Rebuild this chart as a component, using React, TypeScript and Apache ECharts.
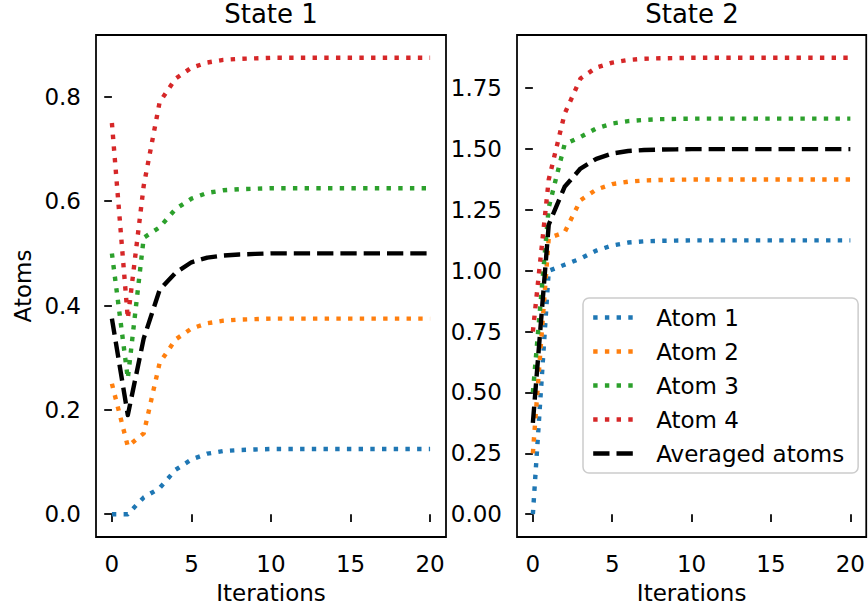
import React, { useEffect, useRef } from "react";
import * as echarts from "echarts";

const iterations = [0, 1, 2, 3, 4, 5, 6, 7, 8, 9, 10, 11, 12, 13, 14, 15, 16, 17, 18, 19, 20];

const s1Atom1 = [0, 0, 0.032, 0.05, 0.085, 0.105, 0.116, 0.121, 0.123, 0.124, 0.125, 0.125, 0.125, 0.125, 0.125, 0.125, 0.125, 0.125, 0.125, 0.125, 0.125];
const s1Atom2 = [0.25, 0.13, 0.155, 0.29, 0.335, 0.356, 0.366, 0.371, 0.373, 0.374, 0.375, 0.375, 0.375, 0.375, 0.375, 0.375, 0.375, 0.375, 0.375, 0.375, 0.375];
const s1Atom3 = [0.5, 0.26, 0.53, 0.55, 0.585, 0.605, 0.616, 0.621, 0.623, 0.624, 0.625, 0.625, 0.625, 0.625, 0.625, 0.625, 0.625, 0.625, 0.625, 0.625, 0.625];
const s1Atom4 = [0.75, 0.375, 0.63, 0.79, 0.835, 0.856, 0.866, 0.871, 0.873, 0.874, 0.875, 0.875, 0.875, 0.875, 0.875, 0.875, 0.875, 0.875, 0.875, 0.875, 0.875];
const s1Avg = [0.375, 0.19, 0.337, 0.43, 0.463, 0.483, 0.492, 0.496, 0.498, 0.499, 0.5, 0.5, 0.5, 0.5, 0.5, 0.5, 0.5, 0.5, 0.5, 0.5, 0.5];

const s2Atom1 = [0, 1.0, 1.025, 1.05, 1.083, 1.104, 1.116, 1.121, 1.123, 1.124, 1.125, 1.125, 1.125, 1.125, 1.125, 1.125, 1.125, 1.125, 1.125, 1.125, 1.125];
const s2Atom2 = [0.25, 1.135, 1.158, 1.29, 1.334, 1.356, 1.366, 1.371, 1.373, 1.374, 1.375, 1.375, 1.375, 1.375, 1.375, 1.375, 1.375, 1.375, 1.375, 1.375, 1.375];
const s2Atom3 = [0.5, 1.26, 1.52, 1.55, 1.585, 1.605, 1.615, 1.62, 1.623, 1.624, 1.625, 1.625, 1.625, 1.625, 1.625, 1.625, 1.625, 1.625, 1.625, 1.625, 1.625];
const s2Atom4 = [0.75, 1.375, 1.645, 1.79, 1.835, 1.855, 1.866, 1.871, 1.873, 1.874, 1.875, 1.875, 1.875, 1.875, 1.875, 1.875, 1.875, 1.875, 1.875, 1.875, 1.875];
const s2Avg = [0.375, 1.19, 1.345, 1.42, 1.46, 1.482, 1.492, 1.496, 1.498, 1.499, 1.5, 1.5, 1.5, 1.5, 1.5, 1.5, 1.5, 1.5, 1.5, 1.5, 1.5];

const seriesNames = ["Atom 1", "Atom 2", "Atom 3", "Atom 4", "Averaged atoms"];
const seriesColors = ["#1f77b4", "#ff7f0e", "#2ca02c", "#d62728", "#000000"];
const titles = ["State 1", "State 2"];
const xTicks = [0, 5, 10, 15, 20];
const s1YTicks = [0, 0.2, 0.4, 0.6, 0.8];
const s2YTicks = [0, 0.25, 0.5, 0.75, 1.0, 1.25, 1.5, 1.75];

const FONT = "DejaVu Sans";
const FS = 23;
const LW = 4.4;
const DOT = [4.4, 7.3];
const DASH = [16.3, 7];

function pairs(ys: number[]) {
  return ys.map((y, i) => [iterations[i], y]);
}

export default function App() {
  const ref = useRef<HTMLDivElement>(null);
  useEffect(() => {
    if (!ref.current) return;
    const chart = echarts.init(ref.current, null, { renderer: "svg" });
    const states = [
      [s1Atom1, s1Atom2, s1Atom3, s1Atom4, s1Avg],
      [s2Atom1, s2Atom2, s2Atom3, s2Atom4, s2Avg],
    ];
    const series: any[] = [];
    states.forEach((st, gi) => {
      st.forEach((ys, si) => {
        series.push({
          type: "line",
          name: seriesNames[si],
          xAxisIndex: gi,
          yAxisIndex: gi,
          data: pairs(ys),
          symbol: "none",
          showSymbol: false,
          color: seriesColors[si],
          z: 2 + si,
          lineStyle: {
            color: seriesColors[si],
            width: LW,
            type: si === 4 ? DASH : DOT,
            cap: "butt",
            join: "round",
          },
        });
      });
    });
    const axisCommon = {
      type: "value",
      splitLine: { show: false },
      axisLine: { show: false },
    };
    const tickStyle = { show: true, inside: false, length: 7.7, lineStyle: { color: "#000", width: 1.76 } };
    const labelStyle = { color: "#000", fontSize: FS, fontFamily: FONT, margin: 15 };
    const grids = [
      { left: 96, top: 35, width: 350, height: 502 },
      { left: 517, top: 35, width: 350, height: 502 },
    ];
    chart.setOption({
      animation: false,
      backgroundColor: "#ffffff",
      textStyle: { fontFamily: FONT },
      grid: grids.map((g) => ({ ...g, show: true, borderColor: "#000", borderWidth: 1.76, backgroundColor: "transparent" })),
      xAxis: [0, 1].map((gi) => ({
        ...axisCommon,
        gridIndex: gi,
        min: -1,
        max: 21,
        name: "Iterations",
        nameLocation: "middle",
        nameGap: 44,
        nameTextStyle: { color: "#000", fontSize: FS, fontFamily: FONT },
        axisTick: { ...tickStyle, customValues: xTicks },
        axisLabel: { ...labelStyle, customValues: xTicks, formatter: (v: number) => String(v) },
      })),
      yAxis: [
        {
          ...axisCommon,
          gridIndex: 0,
          min: -0.04375,
          max: 0.91875,
          name: "Atoms",
          nameLocation: "middle",
          nameGap: 62,
          nameTextStyle: { color: "#000", fontSize: FS, fontFamily: FONT },
          axisTick: { ...tickStyle, customValues: s1YTicks },
          axisLabel: { ...labelStyle, customValues: s1YTicks, formatter: (v: number) => v.toFixed(1) },
        },
        {
          ...axisCommon,
          gridIndex: 1,
          min: -0.09375,
          max: 1.96875,
          axisTick: { ...tickStyle, customValues: s2YTicks },
          axisLabel: { ...labelStyle, customValues: s2YTicks, formatter: (v: number) => v.toFixed(2) },
        },
      ],
      legend: {
        data: seriesNames,
        orient: "vertical",
        left: 583,
        top: 298,
        padding: [8, 14, 8, 8],
        itemWidth: 44,
        itemHeight: 14,
        itemGap: 11,
        backgroundColor: "rgba(255,255,255,0.8)",
        borderColor: "#cccccc",
        borderWidth: 1.5,
        borderRadius: 6,
        inactiveColor: "#000",
        itemStyle: { opacity: 0, borderWidth: 0 },
        lineStyle: { width: LW, cap: "butt", opacity: 1 },
        textStyle: {
          color: "#000",
          fontSize: FS,
          fontFamily: FONT,
          lineHeight: 23,
          rich: { g: { width: 14 } },
        },
        formatter: (name: string) => "{g|}" + name,
        selectedMode: false,
      },
      graphic: titles.map((t, i) => ({
        type: "text",
        x: grids[i].left + grids[i].width / 2,
        y: 14,
        style: {
          text: t,
          fill: "#000",
          font: `26px '${FONT}'`,
          textAlign: "center",
          textVerticalAlign: "middle",
        },
      })),
      series,
    });
    return () => chart.dispose();
  }, []);
  return <div ref={ref} style={{ position: "fixed", left: 0, top: 0, width: 868, height: 613 }} />;
}
